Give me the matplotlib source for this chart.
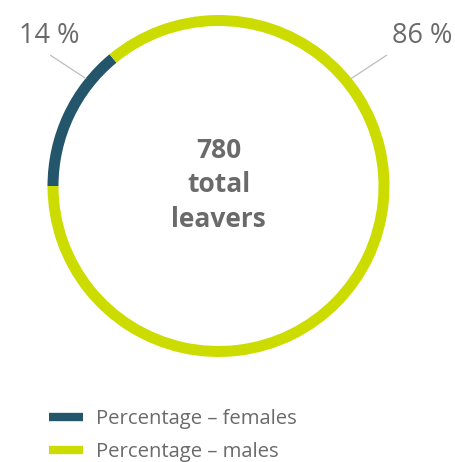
import numpy as np
import matplotlib.pyplot as plt
from matplotlib.lines import Line2D

plt.rcParams['font.family'] = ['Open Sans', 'DejaVu Sans']

groups = ['Percentage – females', 'Percentage – males']
shares = [14, 86]
total_leavers = 780
colors = ['#23556b', '#cddc00']
text_color = '#6a6a6a'

W, H = 455, 462
fig = plt.figure(figsize=(W / 100, H / 100), dpi=100)
ax = fig.add_axes([0, 0, 1, 1])

# ring centre and radius in pixel units
cx, cy, r = 218.5, H - 186, 171
ax.pie(shares, colors=colors, startangle=180, counterclock=False,
       center=(cx, cy), radius=r, frame=True,
       wedgeprops=dict(width=11, linewidth=0))
ax.set_xlim(0, W)
ax.set_ylim(0, H)
ax.set_aspect('equal')
ax.axis('off')

# leader lines + percentage labels
label_specs = [(shares[0], 141, 'center', -1), (shares[1], 39, 'left', 6)]
for share, ang, ha, dx in label_specs:
    a = np.deg2rad(ang)
    x0, y0 = cx + r * np.cos(a), cy + r * np.sin(a)
    x1, y1 = x0 + 35 * np.sign(np.cos(a)), y0 + 23
    ax.plot([x0, x1], [y0, y1], color='#bdbdbd', lw=0.9)
    ax.text(x1 + dx, y1 + 19, f'{share} %', ha=ha, va='center',
            fontsize=19.5, color=text_color)

ax.text(cx, cy + 1, f'{total_leavers}\ntotal\nleavers', ha='center', va='center',
        fontsize=19, fontweight='bold', color=text_color, linespacing=1.38)

handles = [Line2D([], [], color=c, lw=6, solid_capstyle='butt') for c in colors]
fig.legend(handles, groups, loc='upper left', bbox_to_anchor=(31 / W, 1 - 391 / H),
           frameon=False, fontsize=14.6, handlelength=1.68, handletextpad=0.64,
           labelspacing=0.62, labelcolor=text_color)

fig.savefig('out.png', dpi=100)
